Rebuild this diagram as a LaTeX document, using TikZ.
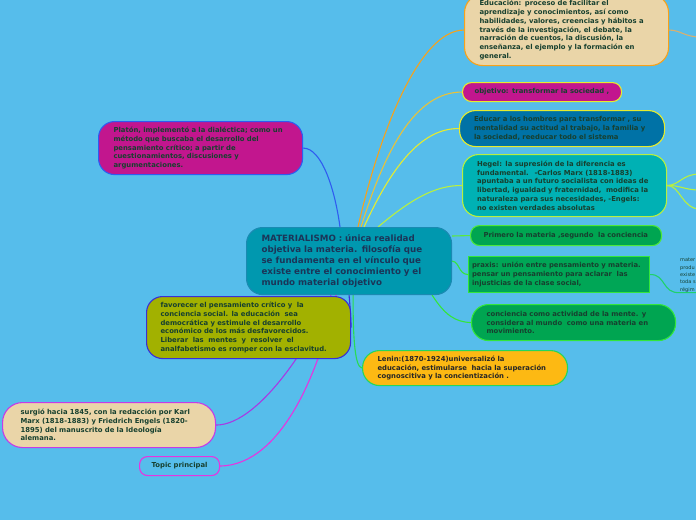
\documentclass[tikz,border=0pt]{standalone}
\usepackage{fontspec}
\setmainfont{DejaVu Sans}
\usetikzlibrary{calc}
\definecolor{sky}{HTML}{56BDEB}
\definecolor{wheat}{HTML}{EAD5A8}
\definecolor{amber}{HTML}{F7A21B}
\definecolor{magenta}{HTML}{C2168E}
\definecolor{seablue}{HTML}{0072A6}
\definecolor{teal}{HTML}{00B1B4}
\definecolor{leaf}{HTML}{00A551}
\definecolor{gold}{HTML}{FDB913}
\definecolor{olive}{HTML}{A2B100}
\definecolor{core}{HTML}{0098AF}
\definecolor{coreedge}{HTML}{1A8AB2}
\definecolor{ink}{HTML}{17402F}
\definecolor{navy}{HTML}{1B3558}
\definecolor{lblue}{HTML}{2F5CF0}
\definecolor{indigo}{HTML}{3A2FD6}
\definecolor{violet}{HTML}{C43BE8}
\definecolor{pink}{HTML}{E833E0}
\definecolor{yell}{HTML}{E6EC2E}
\definecolor{goldline}{HTML}{E8C23A}
\definecolor{lime}{HTML}{B8F040}
\definecolor{green}{HTML}{33E63A}
\definecolor{sand}{HTML}{D8B070}
\pgfdeclarelayer{bg}
\pgfdeclarelayer{edges}
\pgfsetlayers{bg,edges,main}
\tikzset{font=\bfseries\fontsize{6.85}{8.8}\selectfont}

\begin{document}
\begin{tikzpicture}[x=1pt,y=-1pt]
	\tikzstyle{every node}=[align=left, inner sep=0pt, text=ink]
	\tikzstyle{topic}=[draw, line width=1.1pt, rounded corners=14pt, anchor=north west, inner xsep=15pt]
	\tikzstyle{link}=[line width=1.1pt]

	\clip (0,0) rectangle (696,520);
	\begin{pgfonlayer}{bg}
		\fill[sky] (0,0) rectangle (696,520);
	\end{pgfonlayer}

	% centre
	\node[topic, fill=core, draw=coreedge, text width=175pt, minimum height=67pt, rounded corners=16pt,
		text=navy, font=\bfseries\fontsize{8.7}{11.2}\selectfont] (mat) at (246,227)
		{MATERIALISMO : única realidad\\objetiva la materia. filosofía que\\se fundamenta en el vínculo que\\existe entre el conocimiento y el\\mundo material objetivo};

	% right side
	\node[topic, fill=wheat, draw=amber, text width=174pt, minimum height=71pt, rounded corners=18pt] (edu) at (464,-6)
		{Educación: proceso de facilitar el\\aprendizaje y conocimientos, así como\\habilidades, valores, creencias y hábitos a\\través de la investigación, el debate, la\\narración de cuentos, la discusión, la\\enseñanza, el ejemplo y la formación en\\general.};
	\node[topic, fill=magenta, draw=yell, text width=135pt, inner xsep=12pt, minimum height=19pt, rounded corners=9pt] (obj) at (462,82)
		{objetivo: transformar la sociedad ,};
	\node[topic, fill=seablue, draw=yell, text width=176pt, inner xsep=14.5pt, minimum height=36pt, rounded corners=16pt] (educar) at (459,110)
		{Educar a los hombres para transformar , su\\mentalidad su actitud al trabajo, la familia y\\la sociedad, reeducar todo el sistema};
	\node[topic, fill=teal, draw=lime, text width=175pt, inner xsep=14.5pt, minimum height=62pt, rounded corners=16pt] (hegel) at (462,154)
		{Hegel: la supresión de la diferencia es\\fundamental.~ -Carlos Marx (1818-1883)\\apuntaba a un futuro socialista con ideas de\\libertad, igualdad y fraternidad,~ modifica la\\naturaleza para sus necesidades, -Engels:\\no existen verdades absolutas};
	\node[topic, fill=leaf, draw=green!80!lime, text width=165pt, inner xsep=13pt, minimum height=20pt, rounded corners=9pt] (primero) at (470,225)
		{Primero la materia ,segundo~ la conciencia};
	\node[topic, fill=leaf!95!teal, draw=green, rounded corners=0pt, text width=174pt, inner xsep=3.5pt, minimum height=36pt] (praxis) at (468,256)
		{praxis: unión entre pensamiento y materia.\\pensar un pensamiento para aclarar~ las\\injusticias de la clase social,};
	\node[topic, fill=leaf, draw=green, text width=174pt, minimum height=36pt, rounded corners=17pt] (conc) at (471,304)
		{conciencia como actividad de la mente. y\\considera al mundo~ como una materia en\\movimiento.};
	\node[topic, fill=gold, draw=green!70!teal, text=black!85, text width=175pt, minimum height=35pt, rounded corners=17pt] (lenin) at (362,350)
		{Lenin:(1870-1924)universalizó la\\educación, estimularse~ hacia la superación\\cognoscitiva y la concientización .};
	\node[anchor=north west, font=\fontsize{5}{7.4}\selectfont] (mater) at (680,258)
		{mater\\produ\\existe\\toda s\\régim};

	% left side
	\node[topic, fill=magenta, draw=lblue, text width=174pt, minimum height=53pt, rounded corners=16pt] (platon) at (98,121)
		{Platón, implementó a la dialéctica; como un\\método que buscaba el desarrollo del\\pensamiento crítico; a partir de\\cuestionamientos, discusiones y\\argumentaciones.};
	\node[topic, fill=olive, draw=indigo, text width=176pt, inner xsep=14pt, minimum height=62pt, rounded corners=16pt] (fav) at (146,296)
		{favorecer el pensamiento crítico y~ la\\conciencia social. la educación~ sea\\democrática y estimule el desarrollo\\económico de los más desfavorecidos.\\Liberar~ las~ mentes~ y~ resolver~ el\\analfabetismo es romper con la esclavitud.};
	\node[topic, fill=wheat, draw=violet, text width=177pt, inner xsep=18pt, minimum height=45pt, rounded corners=20pt] (surg) at (2,402)
		{surgió hacia 1845, con la redacción por Karl\\Marx (1818-1883) y Friedrich Engels (1820-\\1895) del manuscrito de la Ideología\\alemana.};
	\node[topic, fill=sky, draw=pink, align=center, text width=80pt, inner xsep=0pt, minimum height=19pt, rounded corners=8pt] (topic) at (139,456)
		{Topic principal};

	\coordinate (edu-out) at (700,37);
	\coordinate (hg-a) at (700,174);
	\coordinate (hg-b) at (700,190);
	\coordinate (hg-c) at (700,209);

	\begin{pgfonlayer}{edges}
		\draw[link, lblue] ($(mat.north west)+(94,0)$) .. controls (335,190) and (322,148) .. (platon.east);
		\draw[link, amber] ($(mat.north west)+(112,0)$) .. controls (380,130) and (420,30) .. (edu.west);
		\draw[link, goldline] ($(mat.north west)+(115,0)$) .. controls (385,150) and (415,92) .. (obj.west);
		\draw[link, yell] ($(mat.north west)+(118,0)$) .. controls (390,170) and (420,128) .. (educar.west);
		\draw[link, lime] ($(mat.north west)+(132,0)$) .. controls (410,200) and (435,185) .. (hegel.west);
		\draw[link, green!70!lime] ($(mat.north east)+(0,9)$) -- (primero.west);
		\draw[link, green] (mat.east) .. controls (460,262) and (458,274) .. (praxis.west);
		\draw[link, green] ($(mat.south east)+(-20,0)$) .. controls (445,315) and (455,322) .. (conc.west);
		\draw[link, green!80!teal] ($(mat.south)+(4,0)$) .. controls (353,340) and (355,367) .. (lenin.west);
		\draw[link, indigo] (mat.south) .. controls (350,305) and (351,320) .. (fav.east);
		\draw[link, violet!80!indigo] ($(mat.south)+(-18,0)$) .. controls (318,330) and (262,425) .. (surg.east);
		\draw[link, pink] ($(mat.south)+(-13,0)$) .. controls (320,370) and (282,465) .. (topic.east);
		\draw[link, sand] (edu.east) .. controls (680,30) and (685,37) .. (edu-out);
		\draw[link, lime] (hegel.east) .. controls (680,185) and (682,174) .. (hg-a);
		\draw[link, lime] (hegel.east) .. controls (680,185) and (684,190) .. (hg-b);
		\draw[link, lime] (hegel.east) .. controls (680,185) and (682,209) .. (hg-c);
		\draw[link, green!60!teal] (praxis.east) .. controls (666,274) and (662,294) .. (mater.south west) -- (mater.south east);
	\end{pgfonlayer}
\end{tikzpicture}
\end{document}
